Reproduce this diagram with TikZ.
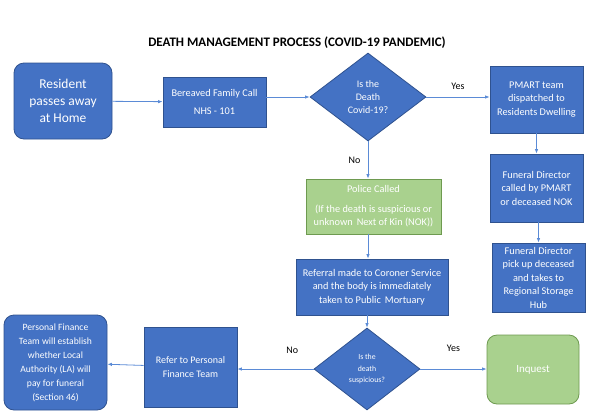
\documentclass[tikz,border=0pt]{standalone}
\usepackage{fontspec}
\setmainfont{Carlito}
\usetikzlibrary{shapes.geometric,arrows.meta}
\definecolor{boxblue}{HTML}{4472C4}
\definecolor{boxedge}{HTML}{2F528F}
\definecolor{boxgreen}{HTML}{A9D18E}
\definecolor{greenedge}{HTML}{6E9A50}
\definecolor{lineblue}{HTML}{5B8BD6}
\begin{document}
\begin{tikzpicture}[x=1pt,y=-1pt,>={Latex[length=4.5pt,width=3.5pt]},
    every edge/.style={draw,lineblue,line width=0.8pt},
    dims/.style 2 args={minimum width=#1pt,minimum height=#2pt},
    box node/.style={rectangle,draw=boxedge,fill=boxblue,text=white,line width=0.8pt,inner sep=0pt,align=center,font=\fontsize{10.3}{13.5}\selectfont},
    round node/.style={box node,rounded corners=10pt,font=\fontsize{9.6}{14}\selectfont},
    green node/.style={box node,draw=greenedge,fill=boxgreen},
    test node/.style={diamond,draw=boxedge,fill=boxblue,text=white,line width=0.8pt,inner sep=0pt,align=center,font=\fontsize{10}{13.3}\selectfont},
    label node/.style={font=\fontsize{10}{12}\selectfont,text=black}]

                \useasboundingbox (0,0) rectangle (597,418);

                \node[font=\fontsize{13}{15}\selectfont\bfseries] at (297,43) (title) {DEATH MANAGEMENT PROCESS (COVID-19 PANDEMIC)};

                \node[round node,dims={98}{76},font=\fontsize{13.5}{17}\selectfont] at (63,101) (res) {Resident\\passes away\\at Home};
                \node[box node,dims={103}{50}] at (214.5,102) (fam) {Bereaved Family Call\\[5pt]NHS - 101};
                \node[test node,dims={116}{88}] at (368,97) (covid) {Is the\\Death\\Covid-19?};
                \node[box node,dims={93}{67}] at (536.5,99.5) (pmart) {PMART team\\dispatched to\\Residents Dwelling};
                \node[box node,dims={93}{68}] at (536.5,188) (fdcall) {Funeral Director\\called by PMART\\or deceased NOK};
                \node[box node,dims={93}{69}] at (538.5,277.5) (fdhub) {Funeral Director\\pick up deceased\\and takes to\\Regional Storage\\Hub};
                \node[green node,dims={135}{55}] at (373.5,206.5) (police) {Police Called\\[6pt](If the death is suspicious or\\unknown\, Next of Kin (NOK))};
                \node[box node,dims={152}{56}] at (372,287) (coroner) {Referral made to Coroner Service\\and the body is immediately\\taken to Public\, Mortuary};
                \node[test node,dims={106}{82},font=\fontsize{7.8}{11.5}\selectfont] at (367,369) (susp) {Is the\\death\\suspicious?};
                \node[green node,rounded corners=10pt,dims={92}{69},font=\fontsize{11}{13}\selectfont] at (533,369.5) (inq) {Inquest};
                \node[box node,dims={93}{80},font=\fontsize{10}{13.3}\selectfont] at (190.5,367) (refer) {Refer to Personal\\Finance Team};
                \node[round node,dims={103}{95}] at (55.5,362.5) (pfin) {Personal Finance\\Team will establish\\whether Local\\Authority (LA) will\\pay for funeral\\(Section 46)};

                \path[->] (res) edge (fam);
                \path[->] (fam.east |- covid.west) edge (covid.west);
                \path[->] (covid.east) edge node[label node,above=4pt] {Yes} (covid.east -| pmart.west);
                \path[->] (pmart.south -| fdcall) edge (fdcall.north);
                \path[->] (fdcall.south -| fdhub) edge (fdhub.north);
                \path[->] (covid.south) edge node[label node,left=4pt] {No} (covid.south |- police.north);
                \path[->] (covid.south |- police.south) edge (covid.south |- coroner.north);
                \path[->] (susp.north |- coroner.south) edge (susp.north);
                \path[->] (susp.east) edge node[label node,above=14pt] {Yes} (susp.east -| inq.west);
                \path[->] (susp.west) edge node[label node,above=12pt,pos=0.28] {No} (susp.west -| refer.east);
                \path[->] (refer) edge (pfin);
            \end{tikzpicture}
\end{document}
